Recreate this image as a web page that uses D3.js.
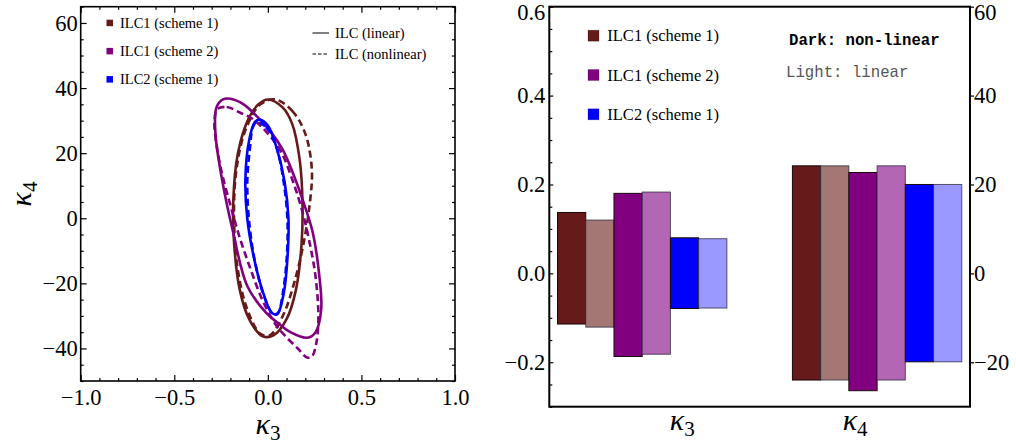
<!DOCTYPE html>
<html>
<head>
<meta charset="utf-8">
<script src="https://cdn.jsdelivr.net/npm/d3@7"></script>
<style>
body { margin: 0; background: #fff; }
svg { display: block; }
.axis path.domain { display: none; }
.axis line { stroke: #000; stroke-width: 1.2; }
</style>
</head>
<body>
<script>
// ---- data ----
var seriesNames = ['ILC1 (scheme 1)', 'ILC1 (scheme 2)', 'ILC2 (scheme 1)'];
var seriesColors = ['#661a1a', '#800080', '#0000ff'];
var lightColors = ['#a37773', '#b366b3', '#9999ff'];

// contour points (kappa3, kappa4)
var ilc1s1Linear = [[0.0, 36.5], [0.08, 34], [0.13, 29], [0.17, 18], [0.185, 5], [0.18, -8], [0.15, -22], [0.1, -31], [0.03, -36], [-0.03, -36.2], [-0.1, -31], [-0.15, -22], [-0.18, -8], [-0.185, 5], [-0.16, 20], [-0.1, 31], [-0.05, 35]];
var ilc1s1Nonlinear = [[0.04, 36.5], [0.13, 33], [0.2, 26], [0.235, 15], [0.225, 5], [0.19, -8], [0.14, -20], [0.08, -30], [0.01, -36], [-0.04, -35.5], [-0.11, -28], [-0.16, -16], [-0.18, -2], [-0.17, 14], [-0.12, 27], [-0.04, 35]];
var ilc1s2Linear = [[-0.2, 36.7], [-0.13, 35], [-0.06, 31.4], [0.01, 27], [0.08, 21], [0.14, 13], [0.19, 5], [0.24, -4.4], [0.275, -17.7], [0.285, -28], [0.255, -35], [0.21, -36.7], [0.12, -35], [0.05, -32], [-0.01, -29], [-0.11, -20.8], [-0.185, -4.4], [-0.245, 12], [-0.28, 26], [-0.275, 34], [-0.24, 36.5]];
var ilc1s2Nonlinear = [[-0.27, 33.5], [-0.22, 34.2], [-0.15, 32.5], [-0.08, 30.5], [0.0, 26], [0.07, 20.5], [0.13, 12], [0.18, 3], [0.225, -8], [0.255, -18], [0.27, -30], [0.26, -38], [0.235, -42.5], [0.21, -42.8], [0.16, -40], [0.09, -36], [0.04, -32.5], [-0.03, -25], [-0.09, -16], [-0.15, -6], [-0.2, 4], [-0.25, 15], [-0.28, 25], [-0.285, 30]];
var ilc2s1Linear = [[-0.045, 30.3], [0.0, 28.5], [0.05, 21], [0.09, 11], [0.11, 0], [0.105, -12], [0.085, -23], [0.05, -29.5], [0.02, -29], [-0.03, -22], [-0.075, -12], [-0.11, 0], [-0.12, 12], [-0.1, 24], [-0.07, 29.5]];
var ilc2s1Nonlinear = [[-0.06, 29.5], [-0.01, 28], [0.045, 22], [0.085, 11], [0.105, -1], [0.1, -13], [0.08, -23], [0.055, -29], [0.03, -29.5], [-0.02, -24], [-0.07, -13], [-0.1, -1], [-0.11, 11], [-0.095, 22], [-0.08, 28]];

// right panel: bar ranges, order = dark/light per scheme
var barCategories = ['k3', 'k4'];
var barKeys = ['s1nl', 's1l', 's2nl', 's2l', 'c2nl', 'c2l'];
var k3Upper = [0.137, 0.12, 0.18, 0.183, 0.08, 0.078];
var k3Lower = [-0.114, -0.121, -0.187, -0.182, -0.079, -0.078];
var k4Upper = [24.2, 24.2, 22.7, 24.2, 20, 20];
var k4Lower = [-24, -24, -26.4, -24, -19.9, -19.9];

var leftXTicks = [-1, -0.5, 0, 0.5, 1];
var leftYTicks = [-40, -20, 0, 20, 40, 60];
var rightLeftTicks = [-0.2, 0, 0.2, 0.4, 0.6];
var rightRightTicks = [-20, 0, 20, 40, 60];

// ---- drawing ----
var svg = d3.select('body').append('svg')
    .attr('width', 1016)
    .attr('height', 445);
svg.append('rect').attr('width', 1016).attr('height', 445).attr('fill', '#fff');

var serif = '"Liberation Serif", "Times New Roman", serif';
var fmtMinus = function(s) { return s.replace('-', '\u2212'); };

function styleLabels(g) {
    g.attr('font-family', null).attr('font-size', null);
    g.selectAll('text')
        .style('font-family', serif)
        .style('font-size', '22.5px')
        .attr('fill', '#000');
}

// ===== left panel =====
var x0 = 80.7, x1 = 455, y0 = 6.7, y1 = 381;
var xL = d3.scaleLinear().domain([-1, 1]).range([x0, x1]);
var yL = d3.scaleLinear().domain([-50, 65]).range([y1, y0]);

var xMinor = d3.range(-10, 11).map(function(d) { return d / 10; }).filter(function(d) { return leftXTicks.indexOf(d) < 0; });
var yMinor = d3.range(-50, 66, 5).filter(function(d) { return leftYTicks.indexOf(d) < 0; });

svg.append('g').attr('class', 'axis').attr('transform', 'translate(0,' + y1 + ')')
    .call(d3.axisBottom(xL).tickValues(leftXTicks).tickSizeInner(-6).tickSizeOuter(0).tickPadding(8)
        .tickFormat(function(d) { return fmtMinus(d3.format('.1f')(d)); }))
    .call(styleLabels);
svg.append('g').attr('class', 'axis').attr('transform', 'translate(0,' + y1 + ')')
    .call(d3.axisBottom(xL).tickValues(xMinor).tickSizeInner(-3).tickSizeOuter(0).tickFormat(''));
svg.append('g').attr('class', 'axis').attr('transform', 'translate(0,' + y0 + ')')
    .call(d3.axisTop(xL).tickValues(leftXTicks).tickSizeInner(-6).tickSizeOuter(0).tickFormat(''));
svg.append('g').attr('class', 'axis').attr('transform', 'translate(0,' + y0 + ')')
    .call(d3.axisTop(xL).tickValues(xMinor).tickSizeInner(-3).tickSizeOuter(0).tickFormat(''));
svg.append('g').attr('class', 'axis').attr('transform', 'translate(' + x0 + ',0)')
    .call(d3.axisLeft(yL).tickValues(leftYTicks).tickSizeInner(-6).tickSizeOuter(0).tickPadding(3)
        .tickFormat(function(d) { return fmtMinus(String(d)); }))
    .call(styleLabels);
svg.append('g').attr('class', 'axis').attr('transform', 'translate(' + x0 + ',0)')
    .call(d3.axisLeft(yL).tickValues(yMinor).tickSizeInner(-3).tickSizeOuter(0).tickFormat(''));
svg.append('g').attr('class', 'axis').attr('transform', 'translate(' + x1 + ',0)')
    .call(d3.axisRight(yL).tickValues(leftYTicks).tickSizeInner(-6).tickSizeOuter(0).tickFormat(''));
svg.append('g').attr('class', 'axis').attr('transform', 'translate(' + x1 + ',0)')
    .call(d3.axisRight(yL).tickValues(yMinor).tickSizeInner(-3).tickSizeOuter(0).tickFormat(''));

svg.append('rect')
    .attr('x', x0).attr('y', y0).attr('width', x1 - x0).attr('height', y1 - y0)
    .attr('fill', 'none').attr('stroke', '#000').attr('stroke-width', 1.6);

// contours
var contour = d3.line()
    .x(function(d) { return xL(d[0]); })
    .y(function(d) { return yL(d[1]); })
    .curve(d3.curveCatmullRomClosed);

var curves = [
    { pts: ilc1s1Linear, c: 0, dash: null },
    { pts: ilc1s1Nonlinear, c: 0, dash: '7,4' },
    { pts: ilc1s2Linear, c: 1, dash: null },
    { pts: ilc1s2Nonlinear, c: 1, dash: '7,4' },
    { pts: ilc2s1Nonlinear, c: 2, dash: '7,4' },
    { pts: ilc2s1Linear, c: 2, dash: null }
];
svg.append('g').selectAll('path')
    .data(curves)
    .enter()
    .append('path')
    .attr('d', function(d) { return contour(d.pts); })
    .attr('fill', 'none')
    .attr('stroke', function(d) { return seriesColors[d.c]; })
    .attr('stroke-width', 2.6)
    .attr('stroke-dasharray', function(d) { return d.dash; });

// legend (left)
var legL = svg.append('g');
seriesNames.forEach(function(name, i) {
    var cy = 22.7 + i * 28.2;
    legL.append('rect').attr('x', 106.5).attr('y', cy - 3).attr('width', 6.5).attr('height', 6.5)
        .attr('fill', seriesColors[i]);
    legL.append('text').attr('x', 120).attr('y', cy + 5)
        .style('font-family', serif).style('font-size', '14.5px').text(name);
});
var lineLeg = [{ label: 'ILC (linear)', dash: null, y: 33 }, { label: 'ILC (nonlinear)', dash: '3.5,2', y: 54 }];
lineLeg.forEach(function(d) {
    legL.append('line').attr('x1', 312.5).attr('x2', 329).attr('y1', d.y).attr('y2', d.y)
        .attr('stroke', '#000').attr('stroke-width', 1).attr('stroke-dasharray', d.dash);
    legL.append('text').attr('x', 335).attr('y', d.y + 5)
        .style('font-family', serif).style('font-size', '14.5px').text(d.label);
});

// axis titles
function kappa(g, sub, x, y, rot) {
    var t = g.append('text')
        .attr('transform', 'translate(' + x + ',' + y + ')' + (rot ? ' rotate(' + rot + ')' : ''))
        .attr('text-anchor', 'middle')
        .style('font-family', serif).style('font-size', '30px');
    t.append('tspan').style('font-style', 'italic').text('\u03BA');
    t.append('tspan').attr('dy', 6).style('font-size', '21px').text(sub);
}
kappa(svg, '4', 31, 194, -90);
kappa(svg, '3', 268, 434, 0);

// ===== right panel =====
var rx0 = 549.3, rx1 = 970, ry0 = 6.7, ry1 = 406.7;
var yR = d3.scaleLinear().domain([-0.3, 0.6]).range([ry1, ry0]);
var yR2 = d3.scaleLinear().domain([-30, 60]).range([ry1, ry0]);
var xBand = d3.scaleBand().domain(barCategories).range([rx0, rx1]).paddingInner(0.279).paddingOuter(0.035);
var xSub = d3.scaleBand().domain(barKeys).range([0, xBand.bandwidth()]);

var rMinor = d3.range(-6, 13).map(function(d) { return d * 0.05; })
    .filter(function(d) { return rightLeftTicks.every(function(t) { return Math.abs(t - d) > 1e-6; }); });

var rLeftAxis = svg.append('g').attr('class', 'axis').attr('transform', 'translate(' + rx0 + ',0)')
    .call(d3.axisLeft(yR).tickValues(rightLeftTicks).tickSizeInner(-4).tickSizeOuter(0).tickPadding(4)
        .tickFormat(function(d) { return fmtMinus(d3.format('.1f')(d)); }))
    .call(styleLabels);
svg.append('g').attr('class', 'axis').attr('transform', 'translate(' + rx0 + ',0)')
    .call(d3.axisLeft(yR).tickValues(rMinor).tickSizeInner(-3).tickSizeOuter(0).tickFormat(''));
var rRightAxis = svg.append('g').attr('class', 'axis').attr('transform', 'translate(' + rx1 + ',0)')
    .call(d3.axisRight(yR2).tickValues(rightRightTicks).tickSizeInner(4).tickSizeOuter(0).tickPadding(0)
        .tickFormat(function(d) { return fmtMinus(String(d)); }))
    .call(styleLabels);
// top labels sit just inside the picture
rLeftAxis.selectAll('text').filter(function(d) { return d === 0.6; }).attr('dy', '0.55em');
rRightAxis.selectAll('text').filter(function(d) { return d === 60; }).attr('dy', '0.55em');

// bars
function drawGroup(cat, upper, lower, scale) {
    svg.append('g').selectAll('rect')
        .data(barKeys)
        .enter()
        .append('rect')
        .attr('x', function(d) { return xBand(cat) + xSub(d); })
        .attr('width', xSub.bandwidth())
        .attr('y', function(d, i) { return scale(upper[i]); })
        .attr('height', function(d, i) { return scale(lower[i]) - scale(upper[i]); })
        .attr('fill', function(d, i) { return i % 2 ? lightColors[i >> 1] : seriesColors[i >> 1]; })
        .attr('stroke', function(d, i) { return i % 2 ? 'rgba(40,40,60,0.75)' : '#1a0a0a'; })
        .attr('stroke-width', 1);
}
drawGroup('k3', k3Upper, k3Lower, yR);
drawGroup('k4', k4Upper, k4Lower, yR2);

svg.append('rect')
    .attr('x', rx0).attr('y', ry0).attr('width', rx1 - rx0).attr('height', ry1 - ry0)
    .attr('fill', 'none').attr('stroke', '#000').attr('stroke-width', 2);

// legend (right)
var legR = svg.append('g');
seriesNames.forEach(function(name, i) {
    var cy = 35.7 + i * 39.3;
    legR.append('rect').attr('x', 588).attr('y', cy - 5.5).attr('width', 11).attr('height', 11)
        .attr('fill', seriesColors[i]).attr('stroke', 'rgba(0,0,0,0.25)').attr('stroke-width', 0.8);
    legR.append('text').attr('x', 607.3).attr('y', cy + 5.5)
        .style('font-family', serif).style('font-size', '16.5px').text(name);
});
legR.append('text').attr('x', 789).attr('y', 44.5)
    .style('font-family', '"Liberation Mono", "Courier New", monospace').style('font-size', '15.7px')
    .style('font-weight', 'bold').text('Dark: non-linear');
legR.append('text').attr('x', 786).attr('y', 76.5)
    .style('font-family', '"Liberation Mono", "Courier New", monospace').style('font-size', '15.7px')
    .attr('fill', '#555').text('Light: linear');

kappa(svg, '3', xBand('k3') + xBand.bandwidth() / 2 + 40, 430, 0);
kappa(svg, '4', xBand('k4') + xBand.bandwidth() / 2 - 22, 430, 0);
</script>
</body>
</html>
